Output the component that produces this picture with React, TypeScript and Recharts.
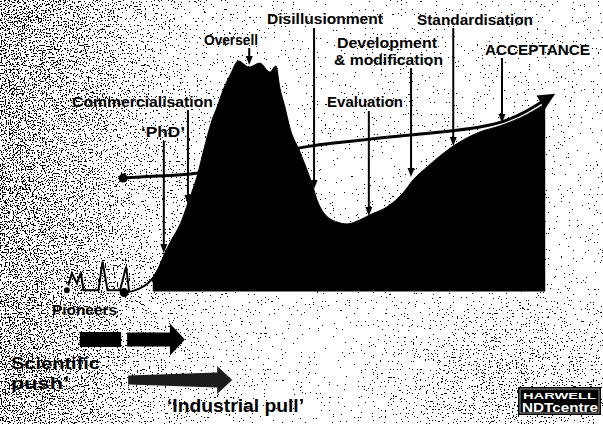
import React from 'react';
import {
  ComposedChart,
  Area,
  Line,
  XAxis,
  YAxis,
  ReferenceLine,
  ReferenceDot,
} from 'recharts';

// time runs 0..120 across the picture, "interest" level -50..110 (0 = baseline)
const hypeTime = [
  30.4, 31.8, 32.8, 33.8, 36.2, 37.4, 39.4, 40.4, 42.2, 43.2, 44.4, 46.0, 47.4,
  49.6, 51.7, 53.7, 54.9, 55.7, 56.7, 57.7, 59.7, 62.3, 63.1, 64.3, 67.1, 69.1,
  71.6, 73.6, 77.0, 80.2, 82.2, 85.0, 90.2, 95.5, 99.5, 103.5, 108.5,
];
const hypeLevel = [
  5.1, 10.0, 14.5, 18.3, 27.0, 33.4, 44.7, 52.3, 64.7, 69.6, 76.0, 82.5, 87.0,
  84.7, 86.2, 82.8, 85.1, 76.8, 69.6, 61.7, 52.6, 39.4, 34.5, 30.0, 26.2, 25.5,
  27.0, 28.9, 31.9, 37.2, 42.1, 47.0, 54.9, 60.2, 62.5, 65.5, 70.8,
];

const trendTime = [24.5, 27.9, 39.4, 49.8, 59.7, 72.2, 83.6, 89.6, 95.5, 99.9, 104.1, 108.1];
const trendLevel = [42.8, 43.2, 44.7, 49.2, 54.2, 57.2, 59.4, 60.6, 62.1, 64.0, 67.4, 71.9];

const earlyTime = [24.7, 27.5, 29.5, 30.9, 32.2];
const earlyLevel = [-0.4, 0.9, 3.2, 6.2, 11.1];

const pioneerTime = [13.3, 14.3, 15.3, 16.1, 16.6, 19.6, 20.4, 21.4, 23.9, 25.1, 25.7];
const pioneerLevel = [0.5, 6.9, 3.1, 7.1, 0.5, 0.5, 11.3, 0.5, 0.5, 9.4, 0.0];

const annotationLabels = [
  'Oversell',
  'Disillusionment',
  'Commercialisation',
  'PhD',
  'Evaluation',
  'Development & modification',
  'Standardisation',
  'ACCEPTANCE',
];
const annotationTime = [49.6, 62.5, 37.4, 32.6, 73.4, 81.8, 90.2, 99.9];
const annotationFrom = [91.9, 99.4, 68.5, 56.8, 68.1, 84.3, 99.4, 88.1];
const annotationTo = [85.5, 38.7, 33.0, 14.5, 28.5, 43.2, 54.9, 63.6];

// 'Scientific push' (two pieces) and 'Industrial pull'
const pushStart = [15.9, 25.3];
const pushEnd = [24.1, 36.8];
const pushLevel = -18.1;
const pullStart = 25.5;
const pullEnd = 46.2;
const pullLevel = -33.4;

const hypeData = hypeTime.map((t, i) => ({ t, v: hypeLevel[i] }));
const trendData = trendTime.map((t, i) => ({ t, v: trendLevel[i] }));
const earlyData = earlyTime.map((t, i) => ({ t, v: earlyLevel[i] }));
const pioneerData = pioneerTime.map((t, i) => ({ t, v: pioneerLevel[i] }));

const FONT = '"Liberation Sans", Arial, Helvetica, sans-serif';

// label placement (px): text, left, baseline, width, size
const labelLayout: [string, number, number, number, number][] = [
  ['Disillusionment', 267, 24, 116, 15],
  ['Oversell', 204, 45, 54, 15],
  ['Standardisation', 417, 25, 116, 15],
  ['Development', 337, 48, 100, 15],
  ['& modification', 334, 65, 109, 15],
  ['ACCEPTANCE', 485, 55, 105, 15],
  ['Commercialisation', 72, 107, 141, 15],
  ['Evaluation', 327, 107, 76, 15],
  ['\u2018PhD\u2019', 141, 137, 44, 15],
  ['Pioneers', 52, 315, 65, 14],
  ['Scientific', 11, 369, 89, 16.5],
  ['push\u2019', 11, 389, 58, 16.5],
  ['\u2018Industrial pull\u2019', 167, 412, 137, 18],
];

const DownArrow = (p: any) => {
  const { x1, y1, x2, y2 } = p;
  return (
    <g>
      <line x1={x1} y1={y1} x2={x2} y2={y2 - 6} stroke='#000' strokeWidth={2} />
      <polygon points={`${x2 - 3.5},${y2 - 9} ${x2 + 3.5},${y2 - 9} ${x2},${y2}`} fill='#000' />
    </g>
  );
};

const TrendHead = (p: any) => {
  const { x1, y1, x2, y2 } = p;
  const a = Math.atan2(y2 - y1, x2 - x1);
  const c = Math.cos(a);
  const s = Math.sin(a);
  const bx = x2 - c * 3;
  const by = y2 - s * 3;
  const tip = [x2 + c * 14, y2 + s * 14];
  const l = [bx + s * 8, by - c * 8];
  const r = [bx - s * 8, by + c * 8];
  return <polygon points={`${tip} ${l} ${r}`} fill='#000' />;
};

const makeBigArrow =
  (tailHalf: number, bodyHalf: number, head: number, headHalf: number, fill: string) =>
  (p: any) => {
    const { x1, y1, x2 } = p;
    const y = y1;
    const hx = x2 - head;
    const pts =
      head > 0
        ? [
            [x1, y - tailHalf],
            [hx, y - bodyHalf],
            [hx, y - headHalf],
            [x2, y],
            [hx, y + headHalf],
            [hx, y + bodyHalf],
            [x1, y + tailHalf],
          ]
        : [
            [x1, y - tailHalf],
            [x2, y - bodyHalf],
            [x2, y + bodyHalf],
            [x1, y + tailHalf],
          ];
    return <polygon points={pts.map((q) => q.join(',')).join(' ')} fill={fill} />;
  };

// scanned-paper grain: density follows the alpha of the gradients below
function Speckle() {
  return (
    <svg width={603} height={424} style={{ position: 'absolute', left: 0, top: 0 }}>
      <defs>
        <linearGradient id='leftFade' x1='0' y1='0' x2='1' y2='0'>
          <stop offset='0' stopColor='#000' stopOpacity={0.87} />
          <stop offset='0.06' stopColor='#000' stopOpacity={0.84} />
          <stop offset='0.16' stopColor='#000' stopOpacity={0.76} />
          <stop offset='0.24' stopColor='#000' stopOpacity={0.66} />
          <stop offset='0.35' stopColor='#000' stopOpacity={0.55} />
          <stop offset='0.5' stopColor='#000' stopOpacity={0.5} />
          <stop offset='1' stopColor='#000' stopOpacity={0.5} />
        </linearGradient>
        <radialGradient id='brFade' cx='0.85' cy='0.92' r='0.3'>
          <stop offset='0' stopColor='#000' stopOpacity={0.5} />
          <stop offset='1' stopColor='#000' stopOpacity={0} />
        </radialGradient>
        <filter
          id='grain'
          x='0'
          y='0'
          width='603'
          height='424'
          filterUnits='userSpaceOnUse'
          colorInterpolationFilters='sRGB'
        >
          <feTurbulence type='fractalNoise' baseFrequency='0.75' numOctaves={2} seed={11} result='noise' />
          <feColorMatrix
            in='noise'
            type='matrix'
            values='0 0 0 0 0  0 0 0 0 0  0 0 0 0 0  1 0 0 0 0'
            result='mono'
          />
          <feComposite in='mono' in2='SourceAlpha' operator='arithmetic' k1={0} k2={1} k3={0.5} k4={-0.5} result='mix' />
          <feComponentTransfer in='mix'>
            <feFuncA type='discrete' tableValues='0 1' />
          </feComponentTransfer>
        </filter>
      </defs>
      <g filter='url(#grain)'>
        <rect x={0} y={0} width={603} height={424} fill='url(#leftFade)' />
        <rect x={0} y={0} width={603} height={424} fill='url(#brFade)' />
      </g>
    </svg>
  );
}

function Labels() {
  return (
    <svg
      width={603}
      height={424}
      style={{ position: 'absolute', left: 0, top: 0, pointerEvents: 'none' }}
    >
      {labelLayout.map(([text, x, y, w, size]) => (
        <text
          key={text}
          x={x}
          y={y}
          fontFamily={FONT}
          fontWeight='bold'
          fontSize={size}
          textLength={w}
          lengthAdjust='spacingAndGlyphs'
          fill='#000'
        >
          {text}
        </text>
      ))}
      <g>
        <rect x={518} y={387} width={83} height={28} fill='#000' />
        <rect x={520} y={389} width={79} height={24} fill='none' stroke='#fff' strokeWidth={0.6} />
        <text x={523} y={399} fontFamily={FONT} fontWeight='bold' fontSize={9} textLength={73} lengthAdjust='spacingAndGlyphs' fill='#fff'>
          HARWELL
        </text>
        <text x={522} y={412} fontFamily={FONT} fontWeight='bold' fontSize={13.5} textLength={76} lengthAdjust='spacingAndGlyphs' fill='#fff'>
          NDTcentre
        </text>
      </g>
    </svg>
  );
}

export default function App() {
  const n = trendData.length;
  return (
    <div
      style={{
        position: 'absolute',
        left: 0,
        top: 0,
        width: 603,
        height: 424,
        background: '#fff',
        overflow: 'hidden',
      }}
    >
      <Speckle />
      <div style={{ position: 'absolute', left: 0, top: 0 }}>
        <ComposedChart width={603} height={424} margin={{ top: 0, right: 0, bottom: 0, left: 0 }}>
          <XAxis type='number' dataKey='t' domain={[0, 120]} hide allowDataOverflow />
          <YAxis type='number' domain={[-50, 110]} hide allowDataOverflow />

          <Area
            data={hypeData}
            dataKey='v'
            type='monotone'
            baseValue={0}
            stroke='#000'
            strokeWidth={1}
            fill='#000'
            fillOpacity={1}
            isAnimationActive={false}
          />
          <Line
            data={earlyData}
            dataKey='v'
            type='monotone'
            stroke='#000'
            strokeWidth={2}
            dot={false}
            isAnimationActive={false}
          />
          <Line
            data={pioneerData}
            dataKey='v'
            type='linear'
            stroke='#000'
            strokeWidth={2}
            strokeLinejoin='miter'
            dot={false}
            isAnimationActive={false}
          />
          <Line
            data={trendData}
            dataKey='v'
            type='monotone'
            stroke='#000'
            strokeWidth={3}
            dot={false}
            isAnimationActive={false}
          />

          <ReferenceLine
            segment={[
              { x: trendTime[n - 2], y: trendLevel[n - 2] },
              { x: trendTime[n - 1], y: trendLevel[n - 1] },
            ]}
            shape={TrendHead}
          />
          <ReferenceDot x={trendTime[0]} y={trendLevel[0]} r={4.5} fill='#000' stroke='none' />
          <ReferenceDot x={earlyTime[0]} y={earlyLevel[0]} r={4.5} fill='#000' stroke='none' />

          {annotationLabels.map((label, i) => (
            <ReferenceLine
              key={label}
              segment={[
                { x: annotationTime[i], y: annotationFrom[i] },
                { x: annotationTime[i], y: annotationTo[i] },
              ]}
              shape={DownArrow}
            />
          ))}

          <ReferenceLine
            segment={[
              { x: pushStart[0], y: pushLevel },
              { x: pushEnd[0], y: pushLevel },
            ]}
            shape={makeBigArrow(7.5, 7.5, 0, 0, '#000')}
          />
          <ReferenceLine
            segment={[
              { x: pushStart[1], y: pushLevel },
              { x: pushEnd[1], y: pushLevel },
            ]}
            shape={makeBigArrow(7, 7, 15, 16, '#000')}
          />
          <ReferenceLine
            segment={[
              { x: pullStart, y: pullLevel },
              { x: pullEnd, y: pullLevel },
            ]}
            shape={makeBigArrow(4.5, 7.5, 15, 14, '#1c1c1c')}
          />
        </ComposedChart>
      </div>
      <Labels />
    </div>
  );
}
